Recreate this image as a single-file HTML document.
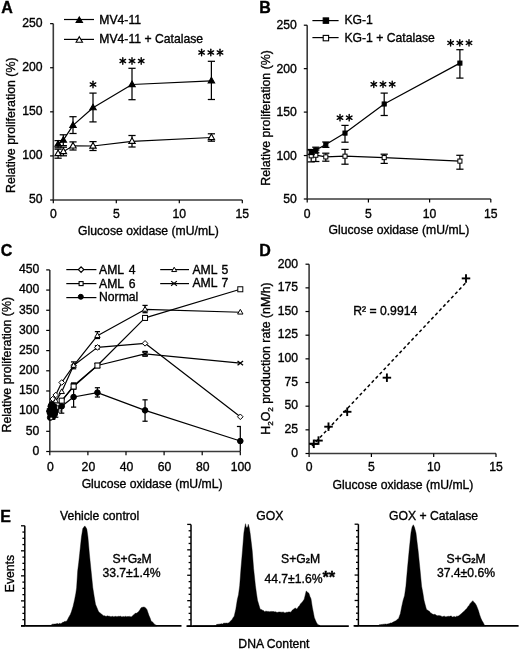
<!DOCTYPE html>
<html><head><meta charset="utf-8"><style>
html,body{margin:0;padding:0;background:#fff;}
svg{display:block;will-change:transform;}
text{font-family:"Liberation Sans", sans-serif;fill:#000;stroke:#000;stroke-width:0.35px;}
</style></head><body>
<svg width="520" height="649" viewBox="0 0 520 649">
<rect width="520" height="649" fill="#fff"/>
<text x="1.20" y="13.00" text-anchor="start" font-size="16" font-weight="bold" >A</text>
<line x1="53.30" y1="23.65" x2="53.30" y2="200.00" stroke="#3a3a3a" stroke-width="1.6" />
<line x1="53.30" y1="200.00" x2="242.30" y2="200.00" stroke="#3a3a3a" stroke-width="1.6" />
<line x1="50.10" y1="200.00" x2="53.30" y2="200.00" stroke="#000" stroke-width="1.2" />
<text x="42.60" y="203.30" text-anchor="end" font-size="12.2" font-weight="normal" >50</text>
<line x1="50.10" y1="155.91" x2="53.30" y2="155.91" stroke="#000" stroke-width="1.2" />
<text x="42.60" y="159.21" text-anchor="end" font-size="12.2" font-weight="normal" >100</text>
<line x1="50.10" y1="111.83" x2="53.30" y2="111.83" stroke="#000" stroke-width="1.2" />
<text x="42.60" y="115.12" text-anchor="end" font-size="12.2" font-weight="normal" >150</text>
<line x1="50.10" y1="67.74" x2="53.30" y2="67.74" stroke="#000" stroke-width="1.2" />
<text x="42.60" y="71.04" text-anchor="end" font-size="12.2" font-weight="normal" >200</text>
<line x1="50.10" y1="23.65" x2="53.30" y2="23.65" stroke="#000" stroke-width="1.2" />
<text x="42.60" y="26.95" text-anchor="end" font-size="12.2" font-weight="normal" >250</text>
<line x1="53.30" y1="200.00" x2="53.30" y2="203.20" stroke="#000" stroke-width="1.2" />
<text x="53.30" y="218.00" text-anchor="middle" font-size="12.2" font-weight="normal" >0</text>
<line x1="116.30" y1="200.00" x2="116.30" y2="203.20" stroke="#000" stroke-width="1.2" />
<text x="116.30" y="218.00" text-anchor="middle" font-size="12.2" font-weight="normal" >5</text>
<line x1="179.30" y1="200.00" x2="179.30" y2="203.20" stroke="#000" stroke-width="1.2" />
<text x="179.30" y="218.00" text-anchor="middle" font-size="12.2" font-weight="normal" >10</text>
<line x1="242.30" y1="200.00" x2="242.30" y2="203.20" stroke="#000" stroke-width="1.2" />
<text x="242.30" y="218.00" text-anchor="middle" font-size="12.2" font-weight="normal" >15</text>
<text x="148.50" y="235.00" text-anchor="middle" font-size="12.2" font-weight="normal" >Glucose oxidase (mU/mL)</text>
<text transform="translate(14.60,125.20) rotate(-90)" text-anchor="middle" font-size="12.4">Relative proliferation (%)</text>
<line x1="64.00" y1="19.50" x2="94.00" y2="19.50" stroke="#000" stroke-width="1.2" />
<polygon points="79.30,16.95 82.50,22.52 76.10,22.52" fill="#000" stroke="#000" stroke-width="1.1" stroke-linejoin="miter"/>
<text x="99.30" y="24.10" text-anchor="start" font-size="12.2" font-weight="normal" >MV4-11</text>
<line x1="64.00" y1="39.40" x2="94.00" y2="39.40" stroke="#000" stroke-width="1.2" />
<polygon points="79.30,36.65 82.50,42.22 76.10,42.22" fill="#fff" stroke="#000" stroke-width="1.1" stroke-linejoin="miter"/>
<text x="99.30" y="42.80" text-anchor="start" font-size="12.2" font-weight="normal" >MV4-11 + Catalase</text>
<line x1="58.10" y1="149.20" x2="58.10" y2="158.20" stroke="#000" stroke-width="1.25" />
<line x1="54.50" y1="149.20" x2="61.70" y2="149.20" stroke="#000" stroke-width="1.25" />
<line x1="54.50" y1="158.20" x2="61.70" y2="158.20" stroke="#000" stroke-width="1.25" />
<line x1="63.40" y1="147.20" x2="63.40" y2="155.80" stroke="#000" stroke-width="1.25" />
<line x1="59.80" y1="147.20" x2="67.00" y2="147.20" stroke="#000" stroke-width="1.25" />
<line x1="59.80" y1="155.80" x2="67.00" y2="155.80" stroke="#000" stroke-width="1.25" />
<line x1="73.00" y1="141.90" x2="73.00" y2="150.00" stroke="#000" stroke-width="1.25" />
<line x1="69.40" y1="141.90" x2="76.60" y2="141.90" stroke="#000" stroke-width="1.25" />
<line x1="69.40" y1="150.00" x2="76.60" y2="150.00" stroke="#000" stroke-width="1.25" />
<line x1="93.00" y1="141.60" x2="93.00" y2="150.50" stroke="#000" stroke-width="1.25" />
<line x1="89.40" y1="141.60" x2="96.60" y2="141.60" stroke="#000" stroke-width="1.25" />
<line x1="89.40" y1="150.50" x2="96.60" y2="150.50" stroke="#000" stroke-width="1.25" />
<line x1="132.00" y1="135.50" x2="132.00" y2="147.00" stroke="#000" stroke-width="1.25" />
<line x1="128.40" y1="135.50" x2="135.60" y2="135.50" stroke="#000" stroke-width="1.25" />
<line x1="128.40" y1="147.00" x2="135.60" y2="147.00" stroke="#000" stroke-width="1.25" />
<line x1="211.40" y1="133.80" x2="211.40" y2="141.20" stroke="#000" stroke-width="1.25" />
<line x1="207.80" y1="133.80" x2="215.00" y2="133.80" stroke="#000" stroke-width="1.25" />
<line x1="207.80" y1="141.20" x2="215.00" y2="141.20" stroke="#000" stroke-width="1.25" />
<polyline points="58.10,153.50 63.40,151.50 73.00,145.90 93.00,146.00 132.00,141.30 211.40,137.50" fill="none" stroke="#000" stroke-width="1.2" stroke-linejoin="round"/>
<polygon points="58.10,150.05 61.30,155.62 54.90,155.62" fill="#fff" stroke="#000" stroke-width="1.1" stroke-linejoin="miter"/>
<polygon points="63.40,148.05 66.60,153.62 60.20,153.62" fill="#fff" stroke="#000" stroke-width="1.1" stroke-linejoin="miter"/>
<polygon points="73.00,142.45 76.20,148.02 69.80,148.02" fill="#fff" stroke="#000" stroke-width="1.1" stroke-linejoin="miter"/>
<polygon points="93.00,142.55 96.20,148.12 89.80,148.12" fill="#fff" stroke="#000" stroke-width="1.1" stroke-linejoin="miter"/>
<polygon points="132.00,137.85 135.20,143.42 128.80,143.42" fill="#fff" stroke="#000" stroke-width="1.1" stroke-linejoin="miter"/>
<polygon points="211.40,134.05 214.60,139.62 208.20,139.62" fill="#fff" stroke="#000" stroke-width="1.1" stroke-linejoin="miter"/>
<line x1="58.10" y1="140.60" x2="58.10" y2="147.80" stroke="#000" stroke-width="1.25" />
<line x1="54.50" y1="140.60" x2="61.70" y2="140.60" stroke="#000" stroke-width="1.25" />
<line x1="54.50" y1="147.80" x2="61.70" y2="147.80" stroke="#000" stroke-width="1.25" />
<line x1="63.30" y1="134.80" x2="63.30" y2="145.60" stroke="#000" stroke-width="1.25" />
<line x1="59.70" y1="134.80" x2="66.90" y2="134.80" stroke="#000" stroke-width="1.25" />
<line x1="59.70" y1="145.60" x2="66.90" y2="145.60" stroke="#000" stroke-width="1.25" />
<line x1="73.00" y1="116.70" x2="73.00" y2="133.50" stroke="#000" stroke-width="1.25" />
<line x1="69.40" y1="116.70" x2="76.60" y2="116.70" stroke="#000" stroke-width="1.25" />
<line x1="69.40" y1="133.50" x2="76.60" y2="133.50" stroke="#000" stroke-width="1.25" />
<line x1="93.00" y1="93.10" x2="93.00" y2="121.90" stroke="#000" stroke-width="1.25" />
<line x1="89.40" y1="93.10" x2="96.60" y2="93.10" stroke="#000" stroke-width="1.25" />
<line x1="89.40" y1="121.90" x2="96.60" y2="121.90" stroke="#000" stroke-width="1.25" />
<line x1="132.00" y1="68.30" x2="132.00" y2="99.70" stroke="#000" stroke-width="1.25" />
<line x1="128.40" y1="68.30" x2="135.60" y2="68.30" stroke="#000" stroke-width="1.25" />
<line x1="128.40" y1="99.70" x2="135.60" y2="99.70" stroke="#000" stroke-width="1.25" />
<line x1="211.40" y1="61.30" x2="211.40" y2="99.50" stroke="#000" stroke-width="1.25" />
<line x1="207.80" y1="61.30" x2="215.00" y2="61.30" stroke="#000" stroke-width="1.25" />
<line x1="207.80" y1="99.50" x2="215.00" y2="99.50" stroke="#000" stroke-width="1.25" />
<polyline points="58.10,144.20 63.30,140.20 73.00,125.40 93.00,107.70 132.00,84.50 211.40,80.80" fill="none" stroke="#000" stroke-width="1.2" stroke-linejoin="round"/>
<polygon points="58.10,140.75 61.30,146.32 54.90,146.32" fill="#000" stroke="#000" stroke-width="1.1" stroke-linejoin="miter"/>
<polygon points="63.30,136.75 66.50,142.32 60.10,142.32" fill="#000" stroke="#000" stroke-width="1.1" stroke-linejoin="miter"/>
<polygon points="73.00,121.95 76.20,127.52 69.80,127.52" fill="#000" stroke="#000" stroke-width="1.1" stroke-linejoin="miter"/>
<polygon points="93.00,104.25 96.20,109.82 89.80,109.82" fill="#000" stroke="#000" stroke-width="1.1" stroke-linejoin="miter"/>
<polygon points="132.00,81.05 135.20,86.62 128.80,86.62" fill="#000" stroke="#000" stroke-width="1.1" stroke-linejoin="miter"/>
<polygon points="211.40,77.35 214.60,82.92 208.20,82.92" fill="#000" stroke="#000" stroke-width="1.1" stroke-linejoin="miter"/>
<line x1="93.00" y1="81.30" x2="93.00" y2="87.70" stroke="#000" stroke-width="1.4" stroke-linecap="round"/>
<line x1="90.23" y1="82.90" x2="95.77" y2="86.10" stroke="#000" stroke-width="1.4" stroke-linecap="round"/>
<line x1="90.23" y1="86.10" x2="95.77" y2="82.90" stroke="#000" stroke-width="1.4" stroke-linecap="round"/>
<line x1="122.80" y1="57.80" x2="122.80" y2="64.20" stroke="#000" stroke-width="1.4" stroke-linecap="round"/>
<line x1="120.03" y1="59.40" x2="125.57" y2="62.60" stroke="#000" stroke-width="1.4" stroke-linecap="round"/>
<line x1="120.03" y1="62.60" x2="125.57" y2="59.40" stroke="#000" stroke-width="1.4" stroke-linecap="round"/>
<line x1="132.00" y1="57.80" x2="132.00" y2="64.20" stroke="#000" stroke-width="1.4" stroke-linecap="round"/>
<line x1="129.23" y1="59.40" x2="134.77" y2="62.60" stroke="#000" stroke-width="1.4" stroke-linecap="round"/>
<line x1="129.23" y1="62.60" x2="134.77" y2="59.40" stroke="#000" stroke-width="1.4" stroke-linecap="round"/>
<line x1="141.20" y1="57.80" x2="141.20" y2="64.20" stroke="#000" stroke-width="1.4" stroke-linecap="round"/>
<line x1="138.43" y1="59.40" x2="143.97" y2="62.60" stroke="#000" stroke-width="1.4" stroke-linecap="round"/>
<line x1="138.43" y1="62.60" x2="143.97" y2="59.40" stroke="#000" stroke-width="1.4" stroke-linecap="round"/>
<line x1="201.60" y1="49.30" x2="201.60" y2="55.70" stroke="#000" stroke-width="1.4" stroke-linecap="round"/>
<line x1="198.83" y1="50.90" x2="204.37" y2="54.10" stroke="#000" stroke-width="1.4" stroke-linecap="round"/>
<line x1="198.83" y1="54.10" x2="204.37" y2="50.90" stroke="#000" stroke-width="1.4" stroke-linecap="round"/>
<line x1="210.80" y1="49.30" x2="210.80" y2="55.70" stroke="#000" stroke-width="1.4" stroke-linecap="round"/>
<line x1="208.03" y1="50.90" x2="213.57" y2="54.10" stroke="#000" stroke-width="1.4" stroke-linecap="round"/>
<line x1="208.03" y1="54.10" x2="213.57" y2="50.90" stroke="#000" stroke-width="1.4" stroke-linecap="round"/>
<line x1="220.00" y1="49.30" x2="220.00" y2="55.70" stroke="#000" stroke-width="1.4" stroke-linecap="round"/>
<line x1="217.23" y1="50.90" x2="222.77" y2="54.10" stroke="#000" stroke-width="1.4" stroke-linecap="round"/>
<line x1="217.23" y1="54.10" x2="222.77" y2="50.90" stroke="#000" stroke-width="1.4" stroke-linecap="round"/>
<text x="259.30" y="12.80" text-anchor="start" font-size="16" font-weight="bold" >B</text>
<line x1="307.20" y1="25.20" x2="307.20" y2="199.00" stroke="#3a3a3a" stroke-width="1.6" />
<line x1="307.20" y1="199.00" x2="490.80" y2="199.00" stroke="#3a3a3a" stroke-width="1.6" />
<line x1="303.80" y1="199.00" x2="307.20" y2="199.00" stroke="#000" stroke-width="1.2" />
<text x="296.90" y="203.10" text-anchor="end" font-size="12.2" font-weight="normal" >50</text>
<line x1="303.80" y1="155.55" x2="307.20" y2="155.55" stroke="#000" stroke-width="1.2" />
<text x="296.90" y="159.65" text-anchor="end" font-size="12.2" font-weight="normal" >100</text>
<line x1="303.80" y1="112.10" x2="307.20" y2="112.10" stroke="#000" stroke-width="1.2" />
<text x="296.90" y="116.20" text-anchor="end" font-size="12.2" font-weight="normal" >150</text>
<line x1="303.80" y1="68.65" x2="307.20" y2="68.65" stroke="#000" stroke-width="1.2" />
<text x="296.90" y="72.75" text-anchor="end" font-size="12.2" font-weight="normal" >200</text>
<line x1="303.80" y1="25.20" x2="307.20" y2="25.20" stroke="#000" stroke-width="1.2" />
<text x="296.90" y="29.30" text-anchor="end" font-size="12.2" font-weight="normal" >250</text>
<line x1="307.20" y1="199.00" x2="307.20" y2="202.40" stroke="#000" stroke-width="1.2" />
<text x="307.20" y="218.00" text-anchor="middle" font-size="12.2" font-weight="normal" >0</text>
<line x1="368.40" y1="199.00" x2="368.40" y2="202.40" stroke="#000" stroke-width="1.2" />
<text x="368.40" y="218.00" text-anchor="middle" font-size="12.2" font-weight="normal" >5</text>
<line x1="429.60" y1="199.00" x2="429.60" y2="202.40" stroke="#000" stroke-width="1.2" />
<text x="429.60" y="218.00" text-anchor="middle" font-size="12.2" font-weight="normal" >10</text>
<line x1="490.80" y1="199.00" x2="490.80" y2="202.40" stroke="#000" stroke-width="1.2" />
<text x="490.80" y="218.00" text-anchor="middle" font-size="12.2" font-weight="normal" >15</text>
<text x="399.00" y="234.30" text-anchor="middle" font-size="12.2" font-weight="normal" >Glucose oxidase (mU/mL)</text>
<text transform="translate(270.00,117.90) rotate(-90)" text-anchor="middle" font-size="12.4">Relative proliferation (%)</text>
<line x1="312.40" y1="20.60" x2="338.60" y2="20.60" stroke="#000" stroke-width="1.2" />
<rect x="323.20" y="17.90" width="5.4" height="5.4" fill="#000" stroke="#000" stroke-width="1.1"/>
<text x="344.40" y="23.90" text-anchor="start" font-size="12.2" font-weight="normal" >KG-1</text>
<line x1="312.40" y1="37.60" x2="338.60" y2="37.60" stroke="#000" stroke-width="1.2" />
<rect x="323.20" y="35.40" width="5.4" height="5.4" fill="#fff" stroke="#000" stroke-width="1.1"/>
<text x="344.40" y="41.60" text-anchor="start" font-size="12.2" font-weight="normal" >KG-1 + Catalase</text>
<line x1="311.20" y1="150.00" x2="311.20" y2="161.90" stroke="#000" stroke-width="1.25" />
<line x1="307.60" y1="150.00" x2="314.80" y2="150.00" stroke="#000" stroke-width="1.25" />
<line x1="307.60" y1="161.90" x2="314.80" y2="161.90" stroke="#000" stroke-width="1.25" />
<line x1="315.80" y1="150.00" x2="315.80" y2="161.50" stroke="#000" stroke-width="1.25" />
<line x1="312.20" y1="150.00" x2="319.40" y2="150.00" stroke="#000" stroke-width="1.25" />
<line x1="312.20" y1="161.50" x2="319.40" y2="161.50" stroke="#000" stroke-width="1.25" />
<line x1="325.80" y1="153.20" x2="325.80" y2="161.20" stroke="#000" stroke-width="1.25" />
<line x1="322.20" y1="153.20" x2="329.40" y2="153.20" stroke="#000" stroke-width="1.25" />
<line x1="322.20" y1="161.20" x2="329.40" y2="161.20" stroke="#000" stroke-width="1.25" />
<line x1="345.00" y1="149.40" x2="345.00" y2="164.20" stroke="#000" stroke-width="1.25" />
<line x1="341.40" y1="149.40" x2="348.60" y2="149.40" stroke="#000" stroke-width="1.25" />
<line x1="341.40" y1="164.20" x2="348.60" y2="164.20" stroke="#000" stroke-width="1.25" />
<line x1="384.20" y1="154.20" x2="384.20" y2="163.40" stroke="#000" stroke-width="1.25" />
<line x1="380.60" y1="154.20" x2="387.80" y2="154.20" stroke="#000" stroke-width="1.25" />
<line x1="380.60" y1="163.40" x2="387.80" y2="163.40" stroke="#000" stroke-width="1.25" />
<line x1="459.90" y1="155.30" x2="459.90" y2="169.20" stroke="#000" stroke-width="1.25" />
<line x1="456.30" y1="155.30" x2="463.50" y2="155.30" stroke="#000" stroke-width="1.25" />
<line x1="456.30" y1="169.20" x2="463.50" y2="169.20" stroke="#000" stroke-width="1.25" />
<polyline points="311.20,155.80 315.80,155.20 325.80,156.90 345.00,156.20 384.20,157.60 459.90,161.10" fill="none" stroke="#000" stroke-width="1.2" stroke-linejoin="round"/>
<rect x="309.15" y="153.75" width="4.1" height="4.1" fill="#fff" stroke="#000" stroke-width="1.0"/>
<rect x="313.75" y="153.15" width="4.1" height="4.1" fill="#fff" stroke="#000" stroke-width="1.0"/>
<rect x="323.75" y="154.85" width="4.1" height="4.1" fill="#fff" stroke="#000" stroke-width="1.0"/>
<rect x="342.95" y="154.15" width="4.1" height="4.1" fill="#fff" stroke="#000" stroke-width="1.0"/>
<rect x="382.15" y="155.55" width="4.1" height="4.1" fill="#fff" stroke="#000" stroke-width="1.0"/>
<rect x="457.85" y="159.05" width="4.1" height="4.1" fill="#fff" stroke="#000" stroke-width="1.0"/>
<line x1="311.20" y1="149.50" x2="311.20" y2="154.50" stroke="#000" stroke-width="1.25" />
<line x1="307.60" y1="149.50" x2="314.80" y2="149.50" stroke="#000" stroke-width="1.25" />
<line x1="307.60" y1="154.50" x2="314.80" y2="154.50" stroke="#000" stroke-width="1.25" />
<line x1="315.80" y1="147.20" x2="315.80" y2="152.80" stroke="#000" stroke-width="1.25" />
<line x1="312.20" y1="147.20" x2="319.40" y2="147.20" stroke="#000" stroke-width="1.25" />
<line x1="312.20" y1="152.80" x2="319.40" y2="152.80" stroke="#000" stroke-width="1.25" />
<line x1="325.80" y1="142.00" x2="325.80" y2="147.40" stroke="#000" stroke-width="1.25" />
<line x1="322.20" y1="142.00" x2="329.40" y2="142.00" stroke="#000" stroke-width="1.25" />
<line x1="322.20" y1="147.40" x2="329.40" y2="147.40" stroke="#000" stroke-width="1.25" />
<line x1="345.00" y1="125.40" x2="345.00" y2="142.20" stroke="#000" stroke-width="1.25" />
<line x1="341.40" y1="125.40" x2="348.60" y2="125.40" stroke="#000" stroke-width="1.25" />
<line x1="341.40" y1="142.20" x2="348.60" y2="142.20" stroke="#000" stroke-width="1.25" />
<line x1="384.20" y1="93.10" x2="384.20" y2="115.50" stroke="#000" stroke-width="1.25" />
<line x1="380.60" y1="93.10" x2="387.80" y2="93.10" stroke="#000" stroke-width="1.25" />
<line x1="380.60" y1="115.50" x2="387.80" y2="115.50" stroke="#000" stroke-width="1.25" />
<line x1="459.90" y1="49.70" x2="459.90" y2="78.10" stroke="#000" stroke-width="1.25" />
<line x1="456.30" y1="49.70" x2="463.50" y2="49.70" stroke="#000" stroke-width="1.25" />
<line x1="456.30" y1="78.10" x2="463.50" y2="78.10" stroke="#000" stroke-width="1.25" />
<polyline points="311.20,151.90 315.80,150.00 325.80,144.60 345.00,133.10 384.20,104.00 459.90,63.10" fill="none" stroke="#000" stroke-width="1.2" stroke-linejoin="round"/>
<rect x="309.15" y="149.85" width="4.1" height="4.1" fill="#000" stroke="#000" stroke-width="1.0"/>
<rect x="313.75" y="147.95" width="4.1" height="4.1" fill="#000" stroke="#000" stroke-width="1.0"/>
<rect x="323.75" y="142.55" width="4.1" height="4.1" fill="#000" stroke="#000" stroke-width="1.0"/>
<rect x="342.95" y="131.05" width="4.1" height="4.1" fill="#000" stroke="#000" stroke-width="1.0"/>
<rect x="382.15" y="101.95" width="4.1" height="4.1" fill="#000" stroke="#000" stroke-width="1.0"/>
<rect x="457.85" y="61.05" width="4.1" height="4.1" fill="#000" stroke="#000" stroke-width="1.0"/>
<line x1="340.00" y1="114.50" x2="340.00" y2="120.90" stroke="#000" stroke-width="1.4" stroke-linecap="round"/>
<line x1="337.23" y1="116.10" x2="342.77" y2="119.30" stroke="#000" stroke-width="1.4" stroke-linecap="round"/>
<line x1="337.23" y1="119.30" x2="342.77" y2="116.10" stroke="#000" stroke-width="1.4" stroke-linecap="round"/>
<line x1="349.20" y1="114.50" x2="349.20" y2="120.90" stroke="#000" stroke-width="1.4" stroke-linecap="round"/>
<line x1="346.43" y1="116.10" x2="351.97" y2="119.30" stroke="#000" stroke-width="1.4" stroke-linecap="round"/>
<line x1="346.43" y1="119.30" x2="351.97" y2="116.10" stroke="#000" stroke-width="1.4" stroke-linecap="round"/>
<line x1="373.80" y1="81.10" x2="373.80" y2="87.50" stroke="#000" stroke-width="1.4" stroke-linecap="round"/>
<line x1="371.03" y1="82.70" x2="376.57" y2="85.90" stroke="#000" stroke-width="1.4" stroke-linecap="round"/>
<line x1="371.03" y1="85.90" x2="376.57" y2="82.70" stroke="#000" stroke-width="1.4" stroke-linecap="round"/>
<line x1="383.00" y1="81.10" x2="383.00" y2="87.50" stroke="#000" stroke-width="1.4" stroke-linecap="round"/>
<line x1="380.23" y1="82.70" x2="385.77" y2="85.90" stroke="#000" stroke-width="1.4" stroke-linecap="round"/>
<line x1="380.23" y1="85.90" x2="385.77" y2="82.70" stroke="#000" stroke-width="1.4" stroke-linecap="round"/>
<line x1="392.20" y1="81.10" x2="392.20" y2="87.50" stroke="#000" stroke-width="1.4" stroke-linecap="round"/>
<line x1="389.43" y1="82.70" x2="394.97" y2="85.90" stroke="#000" stroke-width="1.4" stroke-linecap="round"/>
<line x1="389.43" y1="85.90" x2="394.97" y2="82.70" stroke="#000" stroke-width="1.4" stroke-linecap="round"/>
<line x1="450.60" y1="39.70" x2="450.60" y2="46.10" stroke="#000" stroke-width="1.4" stroke-linecap="round"/>
<line x1="447.83" y1="41.30" x2="453.37" y2="44.50" stroke="#000" stroke-width="1.4" stroke-linecap="round"/>
<line x1="447.83" y1="44.50" x2="453.37" y2="41.30" stroke="#000" stroke-width="1.4" stroke-linecap="round"/>
<line x1="459.80" y1="39.70" x2="459.80" y2="46.10" stroke="#000" stroke-width="1.4" stroke-linecap="round"/>
<line x1="457.03" y1="41.30" x2="462.57" y2="44.50" stroke="#000" stroke-width="1.4" stroke-linecap="round"/>
<line x1="457.03" y1="44.50" x2="462.57" y2="41.30" stroke="#000" stroke-width="1.4" stroke-linecap="round"/>
<line x1="469.00" y1="39.70" x2="469.00" y2="46.10" stroke="#000" stroke-width="1.4" stroke-linecap="round"/>
<line x1="466.23" y1="41.30" x2="471.77" y2="44.50" stroke="#000" stroke-width="1.4" stroke-linecap="round"/>
<line x1="466.23" y1="44.50" x2="471.77" y2="41.30" stroke="#000" stroke-width="1.4" stroke-linecap="round"/>
<text x="0.80" y="256.30" text-anchor="start" font-size="16" font-weight="bold" >C</text>
<line x1="49.80" y1="269.90" x2="49.80" y2="451.50" stroke="#3a3a3a" stroke-width="1.6" />
<line x1="49.80" y1="451.50" x2="240.30" y2="451.50" stroke="#3a3a3a" stroke-width="1.6" />
<line x1="46.20" y1="451.50" x2="49.80" y2="451.50" stroke="#000" stroke-width="1.2" />
<text x="39.30" y="454.80" text-anchor="end" font-size="12.2" font-weight="normal" >0</text>
<line x1="46.20" y1="431.32" x2="49.80" y2="431.32" stroke="#000" stroke-width="1.2" />
<text x="39.30" y="434.62" text-anchor="end" font-size="12.2" font-weight="normal" >50</text>
<line x1="46.20" y1="411.14" x2="49.80" y2="411.14" stroke="#000" stroke-width="1.2" />
<text x="39.30" y="414.44" text-anchor="end" font-size="12.2" font-weight="normal" >100</text>
<line x1="46.20" y1="390.97" x2="49.80" y2="390.97" stroke="#000" stroke-width="1.2" />
<text x="39.30" y="394.27" text-anchor="end" font-size="12.2" font-weight="normal" >150</text>
<line x1="46.20" y1="370.79" x2="49.80" y2="370.79" stroke="#000" stroke-width="1.2" />
<text x="39.30" y="374.09" text-anchor="end" font-size="12.2" font-weight="normal" >200</text>
<line x1="46.20" y1="350.61" x2="49.80" y2="350.61" stroke="#000" stroke-width="1.2" />
<text x="39.30" y="353.91" text-anchor="end" font-size="12.2" font-weight="normal" >250</text>
<line x1="46.20" y1="330.43" x2="49.80" y2="330.43" stroke="#000" stroke-width="1.2" />
<text x="39.30" y="333.73" text-anchor="end" font-size="12.2" font-weight="normal" >300</text>
<line x1="46.20" y1="310.26" x2="49.80" y2="310.26" stroke="#000" stroke-width="1.2" />
<text x="39.30" y="313.56" text-anchor="end" font-size="12.2" font-weight="normal" >350</text>
<line x1="46.20" y1="290.08" x2="49.80" y2="290.08" stroke="#000" stroke-width="1.2" />
<text x="39.30" y="293.38" text-anchor="end" font-size="12.2" font-weight="normal" >400</text>
<line x1="46.20" y1="269.90" x2="49.80" y2="269.90" stroke="#000" stroke-width="1.2" />
<text x="39.30" y="273.20" text-anchor="end" font-size="12.2" font-weight="normal" >450</text>
<line x1="49.80" y1="451.50" x2="49.80" y2="455.30" stroke="#000" stroke-width="1.2" />
<text x="50.30" y="470.70" text-anchor="middle" font-size="12.2" font-weight="normal" >0</text>
<line x1="87.90" y1="451.50" x2="87.90" y2="455.30" stroke="#000" stroke-width="1.2" />
<text x="88.40" y="470.70" text-anchor="middle" font-size="12.2" font-weight="normal" >20</text>
<line x1="126.00" y1="451.50" x2="126.00" y2="455.30" stroke="#000" stroke-width="1.2" />
<text x="126.50" y="470.70" text-anchor="middle" font-size="12.2" font-weight="normal" >40</text>
<line x1="164.10" y1="451.50" x2="164.10" y2="455.30" stroke="#000" stroke-width="1.2" />
<text x="164.60" y="470.70" text-anchor="middle" font-size="12.2" font-weight="normal" >60</text>
<line x1="202.20" y1="451.50" x2="202.20" y2="455.30" stroke="#000" stroke-width="1.2" />
<text x="202.70" y="470.70" text-anchor="middle" font-size="12.2" font-weight="normal" >80</text>
<line x1="240.30" y1="451.50" x2="240.30" y2="455.30" stroke="#000" stroke-width="1.2" />
<text x="240.80" y="470.70" text-anchor="middle" font-size="12.2" font-weight="normal" >100</text>
<text x="152.10" y="488.00" text-anchor="middle" font-size="12.2" font-weight="normal" >Glucose oxidase (mU/mL)</text>
<text transform="translate(10.90,364.70) rotate(-90)" text-anchor="middle" font-size="12.4">Relative proliferation (%)</text>
<line x1="66.30" y1="269.60" x2="96.40" y2="269.60" stroke="#000" stroke-width="1.2" />
<polygon points="81.10,266.90 83.80,269.60 81.10,272.30 78.40,269.60" fill="#fff" stroke="#000" stroke-width="1.2"/>
<text x="99.00" y="274.00" text-anchor="start" font-size="12.2" font-weight="normal" word-spacing="1.8">AML 4</text>
<line x1="66.30" y1="283.60" x2="96.40" y2="283.60" stroke="#000" stroke-width="1.2" />
<rect x="79.10" y="281.60" width="4.0" height="4.0" fill="#fff" stroke="#000" stroke-width="1.1"/>
<text x="99.00" y="287.50" text-anchor="start" font-size="12.2" font-weight="normal" word-spacing="1.8">AML 6</text>
<line x1="66.30" y1="297.60" x2="96.40" y2="297.60" stroke="#000" stroke-width="1.2" />
<circle cx="80.80" cy="296.80" r="2.5" fill="#000" stroke="#000" stroke-width="1.0"/>
<text x="99.00" y="301.20" text-anchor="start" font-size="12.2" font-weight="normal" >Normal</text>
<line x1="160.20" y1="269.60" x2="189.00" y2="269.60" stroke="#000" stroke-width="1.2" />
<polygon points="174.20,267.20 176.70,271.55 171.70,271.55" fill="#fff" stroke="#000" stroke-width="1.0" stroke-linejoin="miter"/>
<text x="192.40" y="273.60" text-anchor="start" font-size="12.2" font-weight="normal" word-spacing="1.2">AML 5</text>
<line x1="160.20" y1="283.60" x2="189.00" y2="283.60" stroke="#000" stroke-width="1.2" />
<line x1="171.10" y1="281.08" x2="176.90" y2="285.72" stroke="#000" stroke-width="1.1" />
<line x1="171.10" y1="285.72" x2="176.90" y2="281.08" stroke="#000" stroke-width="1.1" />
<text x="192.40" y="287.20" text-anchor="start" font-size="12.2" font-weight="normal" word-spacing="1.2">AML 7</text>
<line x1="52.77" y1="419.22" x2="52.77" y2="411.14" stroke="#000" stroke-width="1.25" />
<line x1="50.17" y1="419.22" x2="55.37" y2="419.22" stroke="#000" stroke-width="1.25" />
<line x1="50.17" y1="411.14" x2="55.37" y2="411.14" stroke="#000" stroke-width="1.25" />
<line x1="55.75" y1="417.20" x2="55.75" y2="405.09" stroke="#000" stroke-width="1.25" />
<line x1="53.15" y1="417.20" x2="58.35" y2="417.20" stroke="#000" stroke-width="1.25" />
<line x1="53.15" y1="405.09" x2="58.35" y2="405.09" stroke="#000" stroke-width="1.25" />
<line x1="61.71" y1="413.16" x2="61.71" y2="399.04" stroke="#000" stroke-width="1.25" />
<line x1="59.11" y1="413.16" x2="64.31" y2="413.16" stroke="#000" stroke-width="1.25" />
<line x1="59.11" y1="399.04" x2="64.31" y2="399.04" stroke="#000" stroke-width="1.25" />
<line x1="73.61" y1="407.11" x2="73.61" y2="386.93" stroke="#000" stroke-width="1.25" />
<line x1="71.01" y1="407.11" x2="76.21" y2="407.11" stroke="#000" stroke-width="1.25" />
<line x1="71.01" y1="386.93" x2="76.21" y2="386.93" stroke="#000" stroke-width="1.25" />
<line x1="97.42" y1="397.02" x2="97.42" y2="387.74" stroke="#000" stroke-width="1.25" />
<line x1="94.83" y1="397.02" x2="100.02" y2="397.02" stroke="#000" stroke-width="1.25" />
<line x1="94.83" y1="387.74" x2="100.02" y2="387.74" stroke="#000" stroke-width="1.25" />
<line x1="145.05" y1="421.23" x2="145.05" y2="399.84" stroke="#000" stroke-width="1.25" />
<line x1="142.45" y1="421.23" x2="147.65" y2="421.23" stroke="#000" stroke-width="1.25" />
<line x1="142.45" y1="399.84" x2="147.65" y2="399.84" stroke="#000" stroke-width="1.25" />
<polyline points="49.80,411.14 52.77,414.37 55.75,411.14 61.71,406.30 73.61,397.02 97.42,392.58 145.05,410.34 240.30,441.01" fill="none" stroke="#000" stroke-width="1.2" stroke-linejoin="round"/>
<circle cx="49.80" cy="411.14" r="2.8" fill="#000" stroke="#000" stroke-width="1.0"/>
<circle cx="52.77" cy="414.37" r="2.8" fill="#000" stroke="#000" stroke-width="1.0"/>
<circle cx="55.75" cy="411.14" r="2.8" fill="#000" stroke="#000" stroke-width="1.0"/>
<circle cx="61.71" cy="406.30" r="2.8" fill="#000" stroke="#000" stroke-width="1.0"/>
<circle cx="73.61" cy="397.02" r="2.8" fill="#000" stroke="#000" stroke-width="1.0"/>
<circle cx="97.42" cy="392.58" r="2.8" fill="#000" stroke="#000" stroke-width="1.0"/>
<circle cx="145.05" cy="410.34" r="2.8" fill="#000" stroke="#000" stroke-width="1.0"/>
<circle cx="240.30" cy="441.01" r="2.8" fill="#000" stroke="#000" stroke-width="1.0"/>
<line x1="240.30" y1="426.48" x2="240.30" y2="451.50" stroke="#000" stroke-width="1.25" />
<line x1="236.90" y1="426.48" x2="240.90" y2="426.48" stroke="#000" stroke-width="1.25" />
<line x1="73.61" y1="388.95" x2="73.61" y2="382.90" stroke="#000" stroke-width="1.25" />
<line x1="71.01" y1="388.95" x2="76.21" y2="388.95" stroke="#000" stroke-width="1.25" />
<line x1="71.01" y1="382.90" x2="76.21" y2="382.90" stroke="#000" stroke-width="1.25" />
<line x1="97.42" y1="367.56" x2="97.42" y2="363.52" stroke="#000" stroke-width="1.25" />
<line x1="94.83" y1="367.56" x2="100.02" y2="367.56" stroke="#000" stroke-width="1.25" />
<line x1="94.83" y1="363.52" x2="100.02" y2="363.52" stroke="#000" stroke-width="1.25" />
<line x1="145.05" y1="356.26" x2="145.05" y2="351.42" stroke="#000" stroke-width="1.25" />
<line x1="142.45" y1="356.26" x2="147.65" y2="356.26" stroke="#000" stroke-width="1.25" />
<line x1="142.45" y1="351.42" x2="147.65" y2="351.42" stroke="#000" stroke-width="1.25" />
<polyline points="49.80,411.14 52.77,411.95 55.75,409.13 61.71,401.06 73.61,385.72 97.42,365.54 145.05,353.84 240.30,363.12" fill="none" stroke="#000" stroke-width="1.2" stroke-linejoin="round"/>
<line x1="47.05" y1="408.94" x2="52.55" y2="413.34" stroke="#000" stroke-width="1.3" />
<line x1="47.05" y1="413.34" x2="52.55" y2="408.94" stroke="#000" stroke-width="1.3" />
<line x1="50.02" y1="409.75" x2="55.52" y2="414.15" stroke="#000" stroke-width="1.3" />
<line x1="50.02" y1="414.15" x2="55.52" y2="409.75" stroke="#000" stroke-width="1.3" />
<line x1="53.00" y1="406.93" x2="58.50" y2="411.33" stroke="#000" stroke-width="1.3" />
<line x1="53.00" y1="411.33" x2="58.50" y2="406.93" stroke="#000" stroke-width="1.3" />
<line x1="58.96" y1="398.86" x2="64.46" y2="403.26" stroke="#000" stroke-width="1.3" />
<line x1="58.96" y1="403.26" x2="64.46" y2="398.86" stroke="#000" stroke-width="1.3" />
<line x1="70.86" y1="383.52" x2="76.36" y2="387.92" stroke="#000" stroke-width="1.3" />
<line x1="70.86" y1="387.92" x2="76.36" y2="383.52" stroke="#000" stroke-width="1.3" />
<line x1="94.67" y1="363.34" x2="100.17" y2="367.74" stroke="#000" stroke-width="1.3" />
<line x1="94.67" y1="367.74" x2="100.17" y2="363.34" stroke="#000" stroke-width="1.3" />
<line x1="142.30" y1="351.64" x2="147.80" y2="356.04" stroke="#000" stroke-width="1.3" />
<line x1="142.30" y1="356.04" x2="147.80" y2="351.64" stroke="#000" stroke-width="1.3" />
<line x1="237.55" y1="360.92" x2="243.05" y2="365.32" stroke="#000" stroke-width="1.3" />
<line x1="237.55" y1="365.32" x2="243.05" y2="360.92" stroke="#000" stroke-width="1.3" />
<line x1="73.61" y1="388.95" x2="73.61" y2="383.70" stroke="#000" stroke-width="1.25" />
<line x1="71.01" y1="388.95" x2="76.21" y2="388.95" stroke="#000" stroke-width="1.25" />
<line x1="71.01" y1="383.70" x2="76.21" y2="383.70" stroke="#000" stroke-width="1.25" />
<line x1="97.42" y1="367.56" x2="97.42" y2="363.52" stroke="#000" stroke-width="1.25" />
<line x1="94.83" y1="367.56" x2="100.02" y2="367.56" stroke="#000" stroke-width="1.25" />
<line x1="94.83" y1="363.52" x2="100.02" y2="363.52" stroke="#000" stroke-width="1.25" />
<line x1="145.05" y1="320.34" x2="145.05" y2="315.91" stroke="#000" stroke-width="1.25" />
<line x1="142.45" y1="320.34" x2="147.65" y2="320.34" stroke="#000" stroke-width="1.25" />
<line x1="142.45" y1="315.91" x2="147.65" y2="315.91" stroke="#000" stroke-width="1.25" />
<polyline points="49.80,411.14 52.77,409.93 55.75,407.11 61.71,400.65 73.61,386.53 97.42,365.54 145.05,317.92 240.30,289.27" fill="none" stroke="#000" stroke-width="1.2" stroke-linejoin="round"/>
<rect x="47.30" y="408.64" width="5.0" height="5.0" fill="#fff" stroke="#000" stroke-width="1.0"/>
<rect x="50.27" y="407.43" width="5.0" height="5.0" fill="#fff" stroke="#000" stroke-width="1.0"/>
<rect x="53.25" y="404.61" width="5.0" height="5.0" fill="#fff" stroke="#000" stroke-width="1.0"/>
<rect x="59.21" y="398.15" width="5.0" height="5.0" fill="#fff" stroke="#000" stroke-width="1.0"/>
<rect x="71.11" y="384.03" width="5.0" height="5.0" fill="#fff" stroke="#000" stroke-width="1.0"/>
<rect x="94.92" y="363.04" width="5.0" height="5.0" fill="#fff" stroke="#000" stroke-width="1.0"/>
<rect x="142.55" y="315.42" width="5.0" height="5.0" fill="#fff" stroke="#000" stroke-width="1.0"/>
<rect x="237.80" y="286.77" width="5.0" height="5.0" fill="#fff" stroke="#000" stroke-width="1.0"/>
<line x1="97.42" y1="349.00" x2="97.42" y2="345.77" stroke="#000" stroke-width="1.25" />
<line x1="94.83" y1="349.00" x2="100.02" y2="349.00" stroke="#000" stroke-width="1.25" />
<line x1="94.83" y1="345.77" x2="100.02" y2="345.77" stroke="#000" stroke-width="1.25" />
<polyline points="49.80,411.14 52.77,399.04 55.75,395.00 61.71,382.49 73.61,365.54 97.42,347.38 145.05,343.35 240.30,416.79" fill="none" stroke="#000" stroke-width="1.2" stroke-linejoin="round"/>
<polygon points="49.80,408.34 52.60,411.14 49.80,413.94 47.00,411.14" fill="#fff" stroke="#000" stroke-width="1.0"/>
<polygon points="52.77,396.24 55.57,399.04 52.77,401.84 49.97,399.04" fill="#fff" stroke="#000" stroke-width="1.0"/>
<polygon points="55.75,392.20 58.55,395.00 55.75,397.80 52.95,395.00" fill="#fff" stroke="#000" stroke-width="1.0"/>
<polygon points="61.71,379.69 64.51,382.49 61.71,385.29 58.91,382.49" fill="#fff" stroke="#000" stroke-width="1.0"/>
<polygon points="73.61,362.74 76.41,365.54 73.61,368.34 70.81,365.54" fill="#fff" stroke="#000" stroke-width="1.0"/>
<polygon points="97.42,344.58 100.22,347.38 97.42,350.18 94.62,347.38" fill="#fff" stroke="#000" stroke-width="1.0"/>
<polygon points="145.05,340.55 147.85,343.35 145.05,346.15 142.25,343.35" fill="#fff" stroke="#000" stroke-width="1.0"/>
<polygon points="240.30,413.99 243.10,416.79 240.30,419.59 237.50,416.79" fill="#fff" stroke="#000" stroke-width="1.0"/>
<line x1="73.61" y1="368.77" x2="73.61" y2="361.91" stroke="#000" stroke-width="1.25" />
<line x1="71.01" y1="368.77" x2="76.21" y2="368.77" stroke="#000" stroke-width="1.25" />
<line x1="71.01" y1="361.91" x2="76.21" y2="361.91" stroke="#000" stroke-width="1.25" />
<line x1="97.42" y1="338.50" x2="97.42" y2="331.64" stroke="#000" stroke-width="1.25" />
<line x1="94.83" y1="338.50" x2="100.02" y2="338.50" stroke="#000" stroke-width="1.25" />
<line x1="94.83" y1="331.64" x2="100.02" y2="331.64" stroke="#000" stroke-width="1.25" />
<line x1="145.05" y1="312.68" x2="145.05" y2="305.41" stroke="#000" stroke-width="1.25" />
<line x1="142.45" y1="312.68" x2="147.65" y2="312.68" stroke="#000" stroke-width="1.25" />
<line x1="142.45" y1="305.41" x2="147.65" y2="305.41" stroke="#000" stroke-width="1.25" />
<polyline points="49.80,411.14 52.77,406.30 55.75,401.06 61.71,391.77 73.61,365.54 97.42,335.68 145.05,309.45 240.30,312.27" fill="none" stroke="#000" stroke-width="1.2" stroke-linejoin="round"/>
<polygon points="49.80,408.23 52.50,412.93 47.10,412.93" fill="#fff" stroke="#000" stroke-width="1.0" stroke-linejoin="miter"/>
<polygon points="52.77,403.39 55.47,408.09 50.07,408.09" fill="#fff" stroke="#000" stroke-width="1.0" stroke-linejoin="miter"/>
<polygon points="55.75,398.14 58.45,402.84 53.05,402.84" fill="#fff" stroke="#000" stroke-width="1.0" stroke-linejoin="miter"/>
<polygon points="61.71,388.86 64.41,393.56 59.01,393.56" fill="#fff" stroke="#000" stroke-width="1.0" stroke-linejoin="miter"/>
<polygon points="73.61,362.63 76.31,367.33 70.91,367.33" fill="#fff" stroke="#000" stroke-width="1.0" stroke-linejoin="miter"/>
<polygon points="97.42,332.77 100.12,337.46 94.72,337.46" fill="#fff" stroke="#000" stroke-width="1.0" stroke-linejoin="miter"/>
<polygon points="145.05,306.54 147.75,311.23 142.35,311.23" fill="#fff" stroke="#000" stroke-width="1.0" stroke-linejoin="miter"/>
<polygon points="240.30,309.36 243.00,314.06 237.60,314.06" fill="#fff" stroke="#000" stroke-width="1.0" stroke-linejoin="miter"/>
<circle cx="50.18" cy="417.60" r="2.8" fill="#000" stroke="#000" stroke-width="1.0"/>
<circle cx="50.56" cy="414.37" r="2.8" fill="#000" stroke="#000" stroke-width="1.0"/>
<circle cx="51.32" cy="407.92" r="2.8" fill="#000" stroke="#000" stroke-width="1.0"/>
<circle cx="52.09" cy="412.76" r="2.8" fill="#000" stroke="#000" stroke-width="1.0"/>
<circle cx="52.85" cy="416.79" r="2.8" fill="#000" stroke="#000" stroke-width="1.0"/>
<circle cx="53.61" cy="409.53" r="2.8" fill="#000" stroke="#000" stroke-width="1.0"/>
<circle cx="54.75" cy="413.97" r="2.8" fill="#000" stroke="#000" stroke-width="1.0"/>
<circle cx="50.75" cy="406.30" r="2.8" fill="#000" stroke="#000" stroke-width="1.0"/>
<circle cx="51.70" cy="404.28" r="2.8" fill="#000" stroke="#000" stroke-width="1.0"/>
<circle cx="49.80" cy="411.14" r="2.8" fill="#000" stroke="#000" stroke-width="1.0"/>
<circle cx="52.66" cy="411.14" r="2.8" fill="#000" stroke="#000" stroke-width="1.0"/>
<circle cx="53.99" cy="406.30" r="2.8" fill="#000" stroke="#000" stroke-width="1.0"/>
<line x1="47.87" y1="410.76" x2="52.87" y2="414.76" stroke="#000" stroke-width="1.2" />
<line x1="47.87" y1="414.76" x2="52.87" y2="410.76" stroke="#000" stroke-width="1.2" />
<line x1="49.40" y1="407.53" x2="54.40" y2="411.53" stroke="#000" stroke-width="1.2" />
<line x1="49.40" y1="411.53" x2="54.40" y2="407.53" stroke="#000" stroke-width="1.2" />
<line x1="50.92" y1="413.18" x2="55.92" y2="417.18" stroke="#000" stroke-width="1.2" />
<line x1="50.92" y1="417.18" x2="55.92" y2="413.18" stroke="#000" stroke-width="1.2" />
<line x1="52.06" y1="408.34" x2="57.06" y2="412.34" stroke="#000" stroke-width="1.2" />
<line x1="52.06" y1="412.34" x2="57.06" y2="408.34" stroke="#000" stroke-width="1.2" />
<line x1="48.63" y1="414.79" x2="53.63" y2="418.79" stroke="#000" stroke-width="1.2" />
<line x1="48.63" y1="418.79" x2="53.63" y2="414.79" stroke="#000" stroke-width="1.2" />
<circle cx="57.90" cy="404.30" r="1.3" fill="#fff" stroke="#000" stroke-width="0.6"/>
<circle cx="51.20" cy="418.40" r="1.2" fill="#fff" stroke="#000" stroke-width="0.6"/>
<circle cx="59.70" cy="411.00" r="1.2" fill="#fff" stroke="#000" stroke-width="0.6"/>
<text x="259.30" y="255.90" text-anchor="start" font-size="16" font-weight="bold" >D</text>
<line x1="309.10" y1="264.20" x2="309.10" y2="453.50" stroke="#3a3a3a" stroke-width="1.6" />
<line x1="309.10" y1="453.50" x2="496.00" y2="453.50" stroke="#3a3a3a" stroke-width="1.6" />
<line x1="305.50" y1="453.50" x2="309.10" y2="453.50" stroke="#000" stroke-width="1.2" />
<text x="298.00" y="456.80" text-anchor="end" font-size="12.2" font-weight="normal" >0</text>
<line x1="305.50" y1="429.84" x2="309.10" y2="429.84" stroke="#000" stroke-width="1.2" />
<text x="298.00" y="433.14" text-anchor="end" font-size="12.2" font-weight="normal" >25</text>
<line x1="305.50" y1="406.18" x2="309.10" y2="406.18" stroke="#000" stroke-width="1.2" />
<text x="298.00" y="409.48" text-anchor="end" font-size="12.2" font-weight="normal" >50</text>
<line x1="305.50" y1="382.51" x2="309.10" y2="382.51" stroke="#000" stroke-width="1.2" />
<text x="298.00" y="385.81" text-anchor="end" font-size="12.2" font-weight="normal" >75</text>
<line x1="305.50" y1="358.85" x2="309.10" y2="358.85" stroke="#000" stroke-width="1.2" />
<text x="298.00" y="362.15" text-anchor="end" font-size="12.2" font-weight="normal" >100</text>
<line x1="305.50" y1="335.19" x2="309.10" y2="335.19" stroke="#000" stroke-width="1.2" />
<text x="298.00" y="338.49" text-anchor="end" font-size="12.2" font-weight="normal" >125</text>
<line x1="305.50" y1="311.52" x2="309.10" y2="311.52" stroke="#000" stroke-width="1.2" />
<text x="298.00" y="314.82" text-anchor="end" font-size="12.2" font-weight="normal" >150</text>
<line x1="305.50" y1="287.86" x2="309.10" y2="287.86" stroke="#000" stroke-width="1.2" />
<text x="298.00" y="291.16" text-anchor="end" font-size="12.2" font-weight="normal" >175</text>
<line x1="305.50" y1="264.20" x2="309.10" y2="264.20" stroke="#000" stroke-width="1.2" />
<text x="298.00" y="267.50" text-anchor="end" font-size="12.2" font-weight="normal" >200</text>
<line x1="309.10" y1="453.50" x2="309.10" y2="457.10" stroke="#000" stroke-width="1.2" />
<text x="309.10" y="471.10" text-anchor="middle" font-size="12.2" font-weight="normal" >0</text>
<line x1="371.40" y1="453.50" x2="371.40" y2="457.10" stroke="#000" stroke-width="1.2" />
<text x="371.40" y="471.10" text-anchor="middle" font-size="12.2" font-weight="normal" >5</text>
<line x1="433.70" y1="453.50" x2="433.70" y2="457.10" stroke="#000" stroke-width="1.2" />
<text x="433.70" y="471.10" text-anchor="middle" font-size="12.2" font-weight="normal" >10</text>
<line x1="496.00" y1="453.50" x2="496.00" y2="457.10" stroke="#000" stroke-width="1.2" />
<text x="496.00" y="471.10" text-anchor="middle" font-size="12.2" font-weight="normal" >15</text>
<text x="403.00" y="489.00" text-anchor="middle" font-size="12.2" font-weight="normal" >Glucose oxidase (mU/mL)</text>
<text transform="translate(270.0,358.5) rotate(-90)" text-anchor="middle" font-size="12.35">H<tspan font-size="8" dy="3">2</tspan><tspan dy="-3">O</tspan><tspan font-size="8" dy="3">2</tspan><tspan dy="-3"> production rate (nM/h)</tspan></text>
<line x1="312.00" y1="446.00" x2="467.00" y2="281.50" stroke="#000" stroke-width="1.5" stroke-dasharray="3.2 2.6"/>
<line x1="309.55" y1="443.80" x2="318.05" y2="443.80" stroke="#000" stroke-width="1.9" />
<line x1="313.80" y1="439.55" x2="313.80" y2="448.05" stroke="#000" stroke-width="1.9" />
<line x1="314.25" y1="440.60" x2="322.75" y2="440.60" stroke="#000" stroke-width="1.9" />
<line x1="318.50" y1="436.35" x2="318.50" y2="444.85" stroke="#000" stroke-width="1.9" />
<line x1="324.25" y1="426.70" x2="332.75" y2="426.70" stroke="#000" stroke-width="1.9" />
<line x1="328.50" y1="422.45" x2="328.50" y2="430.95" stroke="#000" stroke-width="1.9" />
<line x1="342.95" y1="411.80" x2="351.45" y2="411.80" stroke="#000" stroke-width="1.9" />
<line x1="347.20" y1="407.55" x2="347.20" y2="416.05" stroke="#000" stroke-width="1.9" />
<line x1="382.65" y1="377.70" x2="391.15" y2="377.70" stroke="#000" stroke-width="1.9" />
<line x1="386.90" y1="373.45" x2="386.90" y2="381.95" stroke="#000" stroke-width="1.9" />
<line x1="461.75" y1="278.40" x2="470.25" y2="278.40" stroke="#000" stroke-width="1.9" />
<line x1="466.00" y1="274.15" x2="466.00" y2="282.65" stroke="#000" stroke-width="1.9" />
<line x1="309.20" y1="443.80" x2="318.00" y2="443.80" stroke="#000" stroke-width="1.9" />
<text x="353.20" y="315.30" text-anchor="start" font-size="12.2" font-weight="normal" >R² = 0.9914</text>
<text x="0.20" y="522.40" text-anchor="start" font-size="16" font-weight="bold" >E</text>
<line x1="24.80" y1="525.80" x2="24.80" y2="625.90" stroke="#000" stroke-width="1.5" />
<line x1="21.00" y1="625.90" x2="181.50" y2="625.90" stroke="#000" stroke-width="1.6" />
<line x1="21.00" y1="525.80" x2="24.80" y2="525.80" stroke="#000" stroke-width="1.3" />
<line x1="22.40" y1="532.06" x2="24.80" y2="532.06" stroke="#000" stroke-width="1.3" />
<line x1="22.40" y1="538.31" x2="24.80" y2="538.31" stroke="#000" stroke-width="1.3" />
<line x1="22.40" y1="544.57" x2="24.80" y2="544.57" stroke="#000" stroke-width="1.3" />
<line x1="21.00" y1="550.82" x2="24.80" y2="550.82" stroke="#000" stroke-width="1.3" />
<line x1="22.40" y1="557.08" x2="24.80" y2="557.08" stroke="#000" stroke-width="1.3" />
<line x1="22.40" y1="563.34" x2="24.80" y2="563.34" stroke="#000" stroke-width="1.3" />
<line x1="22.40" y1="569.59" x2="24.80" y2="569.59" stroke="#000" stroke-width="1.3" />
<line x1="21.00" y1="575.85" x2="24.80" y2="575.85" stroke="#000" stroke-width="1.3" />
<line x1="22.40" y1="582.11" x2="24.80" y2="582.11" stroke="#000" stroke-width="1.3" />
<line x1="22.40" y1="588.36" x2="24.80" y2="588.36" stroke="#000" stroke-width="1.3" />
<line x1="22.40" y1="594.62" x2="24.80" y2="594.62" stroke="#000" stroke-width="1.3" />
<line x1="21.00" y1="600.88" x2="24.80" y2="600.88" stroke="#000" stroke-width="1.3" />
<line x1="22.40" y1="607.13" x2="24.80" y2="607.13" stroke="#000" stroke-width="1.3" />
<line x1="22.40" y1="613.39" x2="24.80" y2="613.39" stroke="#000" stroke-width="1.3" />
<line x1="22.40" y1="619.64" x2="24.80" y2="619.64" stroke="#000" stroke-width="1.3" />
<line x1="21.00" y1="625.90" x2="24.80" y2="625.90" stroke="#000" stroke-width="1.3" />
<path d="M26.00,625.90 L26.00,625.60 L27.00,625.59 L28.00,625.58 L29.00,625.58 L30.00,625.57 L31.00,625.56 L32.00,625.55 L33.00,625.54 L34.00,625.54 L35.00,625.53 L36.00,625.52 L37.00,625.51 L38.00,625.50 L39.00,625.50 L40.00,625.49 L41.00,625.48 L42.00,625.47 L43.00,625.46 L44.00,625.46 L45.00,625.45 L46.00,625.44 L47.00,625.43 L48.00,625.42 L49.00,625.42 L50.00,625.41 L51.00,625.40 L52.00,624.20 L53.10,624.14 L54.20,624.08 L55.30,624.01 L56.40,623.77 L57.50,623.54 L58.60,623.98 L59.70,623.33 L60.80,623.74 L61.80,623.03 L62.80,622.19 L63.80,622.11 L64.87,621.34 L65.93,621.43 L67.00,620.77 L68.10,618.44 L69.20,616.42 L70.35,614.53 L71.50,611.52 L73.10,606.22 L74.60,599.73 L75.80,593.45 L76.60,587.88 L77.70,570.70 L78.70,562.83 L79.70,553.45 L81.40,537.36 L82.80,528.59 L83.80,527.19 L84.80,525.92 L85.80,527.36 L86.80,529.12 L87.90,536.68 L89.40,553.98 L91.10,570.94 L92.80,587.67 L94.15,596.30 L95.50,604.26 L96.95,607.66 L98.40,611.21 L99.42,612.54 L100.44,613.15 L101.46,613.89 L102.48,615.03 L103.50,615.75 L104.55,615.67 L105.59,616.24 L106.64,616.22 L107.68,615.84 L108.73,616.24 L109.77,616.26 L110.82,616.68 L111.86,616.61 L112.91,616.24 L113.95,617.01 L115.00,616.22 L116.04,616.51 L117.09,616.83 L118.13,616.21 L119.17,616.54 L120.22,616.08 L121.26,616.69 L122.31,616.78 L123.35,616.57 L124.39,616.86 L125.44,616.29 L126.48,616.66 L127.52,616.54 L128.57,616.52 L129.61,616.38 L130.66,616.75 L131.70,616.84 L132.80,615.42 L133.90,614.66 L135.10,613.36 L136.30,613.30 L137.50,612.55 L138.70,611.43 L139.90,609.79 L141.10,607.78 L142.55,607.29 L144.00,606.97 L145.45,607.67 L146.90,609.46 L147.95,612.42 L149.00,615.62 L150.10,618.06 L151.20,621.27 L152.40,621.83 L153.60,623.15 L154.80,624.60 L155.90,625.10 L157.00,625.60 L157.00,625.90 Z" fill="#000" stroke="#000" stroke-width="0.4"/>
<line x1="191.00" y1="524.40" x2="191.00" y2="626.10" stroke="#000" stroke-width="1.5" />
<line x1="186.50" y1="626.10" x2="348.80" y2="626.10" stroke="#000" stroke-width="1.6" />
<line x1="187.20" y1="524.40" x2="191.00" y2="524.40" stroke="#000" stroke-width="1.3" />
<line x1="188.60" y1="530.76" x2="191.00" y2="530.76" stroke="#000" stroke-width="1.3" />
<line x1="188.60" y1="537.11" x2="191.00" y2="537.11" stroke="#000" stroke-width="1.3" />
<line x1="188.60" y1="543.47" x2="191.00" y2="543.47" stroke="#000" stroke-width="1.3" />
<line x1="187.20" y1="549.83" x2="191.00" y2="549.83" stroke="#000" stroke-width="1.3" />
<line x1="188.60" y1="556.18" x2="191.00" y2="556.18" stroke="#000" stroke-width="1.3" />
<line x1="188.60" y1="562.54" x2="191.00" y2="562.54" stroke="#000" stroke-width="1.3" />
<line x1="188.60" y1="568.89" x2="191.00" y2="568.89" stroke="#000" stroke-width="1.3" />
<line x1="187.20" y1="575.25" x2="191.00" y2="575.25" stroke="#000" stroke-width="1.3" />
<line x1="188.60" y1="581.61" x2="191.00" y2="581.61" stroke="#000" stroke-width="1.3" />
<line x1="188.60" y1="587.96" x2="191.00" y2="587.96" stroke="#000" stroke-width="1.3" />
<line x1="188.60" y1="594.32" x2="191.00" y2="594.32" stroke="#000" stroke-width="1.3" />
<line x1="187.20" y1="600.67" x2="191.00" y2="600.67" stroke="#000" stroke-width="1.3" />
<line x1="188.60" y1="607.03" x2="191.00" y2="607.03" stroke="#000" stroke-width="1.3" />
<line x1="188.60" y1="613.39" x2="191.00" y2="613.39" stroke="#000" stroke-width="1.3" />
<line x1="188.60" y1="619.74" x2="191.00" y2="619.74" stroke="#000" stroke-width="1.3" />
<line x1="187.20" y1="626.10" x2="191.00" y2="626.10" stroke="#000" stroke-width="1.3" />
<path d="M193.00,626.10 L193.00,625.80 L194.01,625.79 L195.03,625.78 L196.04,625.77 L197.05,625.77 L198.07,625.76 L199.08,625.75 L200.09,625.74 L201.10,625.73 L202.12,625.72 L203.13,625.71 L204.14,625.70 L205.16,625.70 L206.17,625.69 L207.18,625.68 L208.20,625.67 L209.21,625.66 L210.22,625.65 L211.23,625.64 L212.25,625.63 L213.26,625.63 L214.27,625.62 L215.29,625.61 L216.30,625.60 L216.50,624.50 L217.80,624.33 L219.10,624.17 L220.40,624.00 L221.55,623.72 L222.70,624.02 L223.85,623.06 L225.00,623.25 L226.27,623.08 L227.53,623.15 L228.80,622.82 L229.83,622.03 L230.87,620.61 L231.90,619.92 L233.05,617.76 L234.20,616.18 L235.80,609.26 L237.30,599.65 L238.50,594.68 L239.70,585.63 L241.00,567.93 L242.50,550.38 L243.90,532.79 L244.80,527.26 L245.50,523.70 L246.30,527.42 L247.60,527.37 L248.30,524.27 L249.30,527.95 L250.10,532.89 L251.15,541.57 L252.20,550.52 L253.60,568.38 L255.40,585.45 L256.45,593.35 L257.50,600.28 L258.85,604.82 L260.20,609.20 L261.30,609.47 L262.40,610.15 L263.50,610.53 L264.60,611.73 L265.63,611.21 L266.65,611.26 L267.68,611.45 L268.71,611.45 L269.73,611.67 L270.76,611.43 L271.79,611.43 L272.81,611.62 L273.84,611.62 L274.87,611.93 L275.89,611.64 L276.92,612.53 L277.95,612.32 L278.97,611.90 L280.00,612.05 L281.08,612.15 L282.16,612.16 L283.24,611.92 L284.32,612.65 L285.40,612.79 L286.48,612.27 L287.56,612.28 L288.64,611.89 L289.72,611.90 L290.80,612.14 L292.15,610.36 L293.50,609.23 L294.50,608.41 L295.50,608.12 L296.50,608.90 L297.50,608.33 L298.50,606.60 L299.50,605.64 L300.50,603.78 L301.50,602.93 L302.85,601.33 L304.20,599.16 L305.20,595.20 L306.20,590.96 L307.55,592.22 L308.90,593.17 L309.95,596.42 L311.00,598.83 L312.30,607.18 L313.30,612.13 L314.30,617.42 L315.43,620.24 L316.57,622.65 L317.70,624.40 L318.85,625.00 L320.00,625.60 L320.00,626.10 Z" fill="#000" stroke="#000" stroke-width="0.4"/>
<line x1="358.40" y1="524.20" x2="358.40" y2="625.90" stroke="#000" stroke-width="1.5" />
<line x1="353.60" y1="625.90" x2="518.60" y2="625.90" stroke="#000" stroke-width="1.6" />
<line x1="354.60" y1="524.20" x2="358.40" y2="524.20" stroke="#000" stroke-width="1.3" />
<line x1="356.00" y1="530.56" x2="358.40" y2="530.56" stroke="#000" stroke-width="1.3" />
<line x1="356.00" y1="536.91" x2="358.40" y2="536.91" stroke="#000" stroke-width="1.3" />
<line x1="356.00" y1="543.27" x2="358.40" y2="543.27" stroke="#000" stroke-width="1.3" />
<line x1="354.60" y1="549.62" x2="358.40" y2="549.62" stroke="#000" stroke-width="1.3" />
<line x1="356.00" y1="555.98" x2="358.40" y2="555.98" stroke="#000" stroke-width="1.3" />
<line x1="356.00" y1="562.34" x2="358.40" y2="562.34" stroke="#000" stroke-width="1.3" />
<line x1="356.00" y1="568.69" x2="358.40" y2="568.69" stroke="#000" stroke-width="1.3" />
<line x1="354.60" y1="575.05" x2="358.40" y2="575.05" stroke="#000" stroke-width="1.3" />
<line x1="356.00" y1="581.41" x2="358.40" y2="581.41" stroke="#000" stroke-width="1.3" />
<line x1="356.00" y1="587.76" x2="358.40" y2="587.76" stroke="#000" stroke-width="1.3" />
<line x1="356.00" y1="594.12" x2="358.40" y2="594.12" stroke="#000" stroke-width="1.3" />
<line x1="354.60" y1="600.48" x2="358.40" y2="600.48" stroke="#000" stroke-width="1.3" />
<line x1="356.00" y1="606.83" x2="358.40" y2="606.83" stroke="#000" stroke-width="1.3" />
<line x1="356.00" y1="613.19" x2="358.40" y2="613.19" stroke="#000" stroke-width="1.3" />
<line x1="356.00" y1="619.54" x2="358.40" y2="619.54" stroke="#000" stroke-width="1.3" />
<line x1="354.60" y1="625.90" x2="358.40" y2="625.90" stroke="#000" stroke-width="1.3" />
<path d="M360.00,625.90 L360.00,625.60 L361.00,625.60 L362.00,625.60 L363.00,625.60 L364.00,625.60 L365.00,625.60 L366.00,625.60 L367.00,625.60 L368.00,625.60 L369.00,625.60 L370.00,625.60 L371.00,625.60 L372.00,625.60 L373.00,625.60 L374.00,625.60 L375.00,625.60 L376.00,625.60 L377.00,625.60 L378.00,625.60 L379.00,625.60 L379.20,624.80 L380.23,624.67 L381.27,624.53 L382.30,624.40 L383.33,624.27 L384.37,624.13 L385.40,624.00 L386.42,624.19 L387.43,623.97 L388.45,623.82 L389.47,623.57 L390.48,622.89 L391.50,623.02 L392.80,622.36 L394.10,621.53 L395.40,621.03 L396.43,620.28 L397.47,619.26 L398.50,618.69 L400.40,613.46 L401.50,607.65 L403.10,600.44 L404.60,595.49 L405.90,586.36 L407.50,568.06 L409.20,550.12 L411.00,532.43 L412.10,526.90 L413.30,524.80 L414.50,527.32 L416.00,533.10 L417.05,541.89 L418.10,550.38 L419.90,568.35 L421.60,586.20 L422.80,592.53 L424.00,600.16 L425.20,604.86 L426.40,609.18 L427.40,610.05 L428.40,610.68 L429.40,611.28 L430.40,612.79 L431.40,613.23 L432.47,614.05 L433.55,614.57 L434.62,614.35 L435.70,614.70 L436.77,615.60 L437.85,615.72 L438.93,615.52 L440.00,615.83 L441.03,615.88 L442.05,616.66 L443.08,616.59 L444.11,615.95 L445.13,616.66 L446.16,616.84 L447.19,616.54 L448.21,616.26 L449.24,616.49 L450.27,616.10 L451.29,616.01 L452.32,616.99 L453.35,616.70 L454.37,616.60 L455.40,617.03 L456.55,616.16 L457.70,616.22 L458.85,615.80 L460.00,614.81 L461.03,613.92 L462.07,613.03 L463.10,612.04 L464.37,611.12 L465.63,609.53 L466.90,608.42 L467.93,606.56 L468.97,605.78 L470.00,603.65 L471.40,602.16 L472.80,600.68 L473.93,602.34 L475.07,603.19 L476.20,605.02 L477.35,607.70 L478.50,610.83 L479.65,614.67 L480.80,618.02 L482.07,620.74 L483.33,622.78 L484.60,625.40 L486.00,625.60 L486.00,625.90 Z" fill="#000" stroke="#000" stroke-width="0.4"/>
<text x="99.70" y="520.00" text-anchor="middle" font-size="12.2" font-weight="normal" >Vehicle control</text>
<text x="269.90" y="520.00" text-anchor="middle" font-size="12.2" font-weight="normal" >GOX</text>
<text x="433.50" y="520.30" text-anchor="middle" font-size="12.2" font-weight="normal" >GOX + Catalase</text>
<text x="132.00" y="563.00" text-anchor="middle" font-size="12.2">S+G<tspan font-size="7.6" font-weight="bold">2</tspan>M</text>
<text x="300.60" y="562.80" text-anchor="middle" font-size="12.2">S+G<tspan font-size="7.6" font-weight="bold">2</tspan>M</text>
<text x="466.00" y="563.00" text-anchor="middle" font-size="12.2">S+G<tspan font-size="7.6" font-weight="bold">2</tspan>M</text>
<text x="131.50" y="577.10" text-anchor="middle" font-size="12.2" font-weight="normal" >33.7±1.4%</text>
<text x="293.50" y="583.00" text-anchor="middle" font-size="12.2" font-weight="normal" >44.7±1.6%</text>
<text x="466.00" y="577.10" text-anchor="middle" font-size="12.2" font-weight="normal" >37.4±0.6%</text>
<text x="322.40" y="582.60" text-anchor="start" font-size="16.5" font-weight="bold" >**</text>
<text transform="translate(13.90,573.60) rotate(-90)" text-anchor="middle" font-size="12.2">Events</text>
<text x="273.90" y="647.50" text-anchor="middle" font-size="12.2" font-weight="normal" >DNA Content</text>
</svg>
</body></html>
